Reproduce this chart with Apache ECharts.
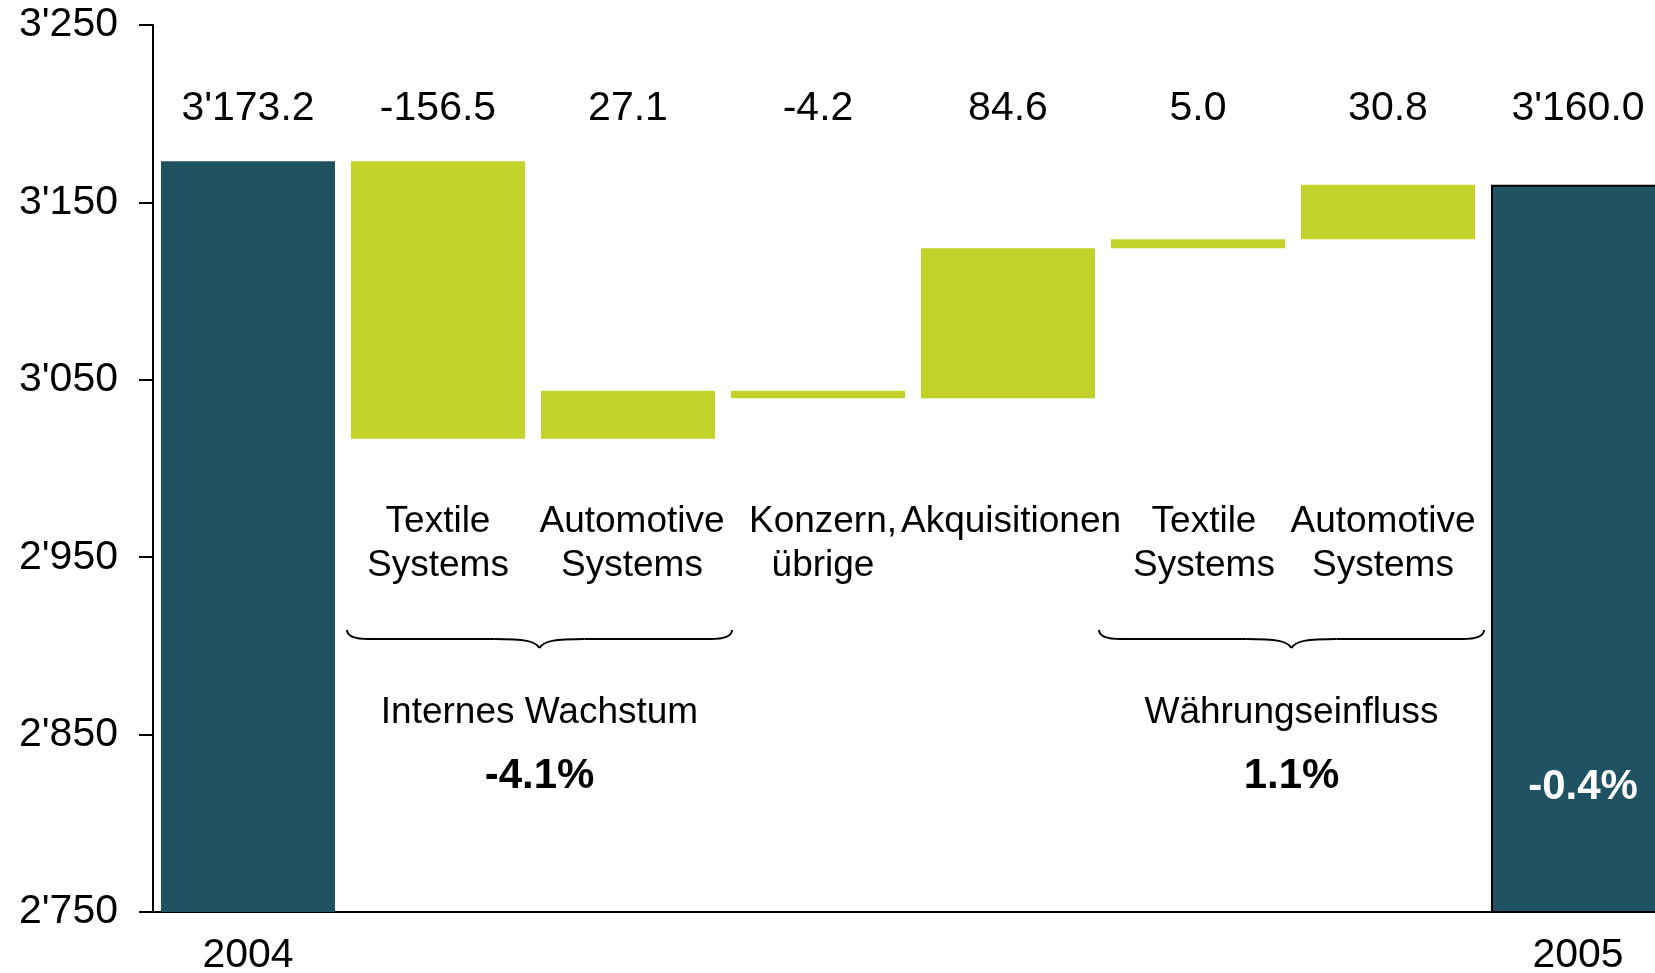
<!DOCTYPE html>
<html>
<head>
<meta charset="utf-8">
<script src="https://cdn.jsdelivr.net/npm/echarts@6/dist/echarts.min.js"></script>
<style>
  html, body { margin: 0; padding: 0; background: #fff; overflow: hidden; }
  /* the plot runs past the right edge of the window, as in the original */
  #chart { width: 1673px; height: 973px; }
</style>
</head>
<body>
<div id="chart"></div>
<script>
// data
const years = ['2004', '2005'];
const startValue = 3173.2;
const endValue = 3160.0;
const stepNames = ['Textile\nSystems', 'Automotive\nSystems', 'Konzern,\nübrige', 'Akquisitionen', 'Textile\nSystems', 'Automotive\nSystems'];
const stepDeltas = [-156.5, 27.1, -4.2, 84.6, 5.0, 30.8];
const groupNames = ['Internes Wachstum', 'Währungseinfluss'];
const groupChange = ['-4.1%', '1.1%'];
const totalChange = '-0.4%';
const yMin = 2750, yMax = 3250, yStep = 100;

const FONT = '"Liberation Sans", Arial, sans-serif';
const TEAL = '#1F5262';
const GREEN = '#C3D22B';

function fmt(v, d) {
  const s = Math.abs(v).toFixed(d);
  const parts = s.split('.');
  const ip = parts[0].replace(/\B(?=(\d{3})+(?!\d))/g, "'");
  return (v < 0 ? '-' : '') + ip + (parts[1] ? '.' + parts[1] : '');
}

const categories = [years[0]].concat(stepNames, [years[1]]);

// waterfall: invisible base + visible step
let level = startValue;
const baseData = ['-'];
const stepData = ['-'];
stepDeltas.forEach(d => {
  baseData.push(+(d < 0 ? level + d : level).toFixed(1));
  stepData.push(Math.abs(d));
  level += d;
});
baseData.push('-');
stepData.push('-');
const totalData = [startValue].concat(stepDeltas.map(() => '-'),
  [{ value: endValue, itemStyle: { borderColor: '#000', borderWidth: 2 } }]);
const valueLabels = [fmt(startValue, 1)].concat(stepDeltas.map(d => fmt(d, 1)), [fmt(endValue, 1)]);

const chart = echarts.init(document.getElementById('chart'));

chart.setOption({
  animation: false,
  grid: { left: 153, top: 25, right: 0, height: 887, outerBoundsMode: 'none' },
  xAxis: {
    type: 'category',
    data: categories,
    axisLine: { lineStyle: { color: '#000', width: 2 } },
    axisTick: { show: false },
    axisLabel: {
      interval: 0,
      margin: 23,
      color: '#000',
      fontSize: 41,
      fontFamily: FONT,
      formatter: (v, i) => (i === 0 || i === categories.length - 1) ? v : ''
    }
  },
  yAxis: {
    type: 'value',
    min: yMin,
    max: yMax,
    interval: yStep,
    axisLine: { show: true, lineStyle: { color: '#000', width: 2 } },
    axisTick: { show: true, length: 14, lineStyle: { color: '#000', width: 2 } },
    splitLine: { show: false },
    axisLabel: {
      margin: 35,
      padding: [3, 0, 0, 0],
      color: '#000',
      fontSize: 41,
      fontFamily: FONT,
      formatter: v => fmt(v, 0)
    }
  },
  series: [
    {
      name: 'base',
      type: 'bar',
      stack: 'wf',
      barWidth: 174,
      itemStyle: { color: 'rgba(0,0,0,0)' },
      silent: true,
      data: baseData
    },
    {
      name: 'step',
      type: 'bar',
      stack: 'wf',
      barWidth: 174,
      itemStyle: { color: GREEN },
      data: stepData
    },
    {
      name: 'total',
      type: 'bar',
      stack: 'wf',
      barWidth: 174,
      itemStyle: { color: TEAL },
      data: totalData
    }
  ]
});

// annotations placed on top
const xs = categories.map((_, i) => chart.convertToPixel({ xAxisIndex: 0 }, i));
const graphics = [];
const nameShift = [0, 4, 5, 3, 6, -5];

valueLabels.forEach((t, i) => {
  graphics.push({
    type: 'text', z: 100,
    style: { text: t, x: xs[i], y: 109, align: 'center', verticalAlign: 'middle', fontSize: 41, fontFamily: FONT, fill: '#000' }
  });
});

stepNames.forEach((t, i) => {
  graphics.push({
    type: 'text', z: 100,
    style: { text: t, x: xs[i + 1] + nameShift[i], y: 500, align: 'center', verticalAlign: 'top', lineHeight: 44, fontSize: 37, fontFamily: FONT, fill: '#000' }
  });
});

// curly brace made of curves and straight pieces
function brace(x0, x1) {
  const y0 = 630, y1 = 639, y2 = 648;
  const xm = (x0 + x1) / 2;
  const st = { stroke: '#000', lineWidth: 2, fill: 'none' };
  return [
    { type: 'bezierCurve', shape: { x1: x0, y1: y0, cpx1: x0, cpy1: y1, x2: x0 + 22, y2: y1 }, style: st },
    { type: 'line', shape: { x1: x0 + 22, y1: y1, x2: xm - 45, y2: y1 }, style: st },
    { type: 'bezierCurve', shape: { x1: xm - 45, y1: y1, cpx1: xm - 15, cpy1: y1, cpx2: xm - 4, cpy2: y1 + 2, x2: xm, y2: y2 }, style: st },
    { type: 'bezierCurve', shape: { x1: xm, y1: y2, cpx1: xm + 4, cpy1: y1 + 2, cpx2: xm + 15, cpy2: y1, x2: xm + 45, y2: y1 }, style: st },
    { type: 'line', shape: { x1: xm + 45, y1: y1, x2: x1 - 22, y2: y1 }, style: st },
    { type: 'bezierCurve', shape: { x1: x1 - 22, y1: y1, cpx1: x1, cpy1: y1, x2: x1, y2: y0 }, style: st }
  ];
}

const braceSpans = [[347, 732], [1099, 1484]];
braceSpans.forEach((s, k) => {
  const xm = (s[0] + s[1]) / 2;
  brace(s[0], s[1]).forEach(el => graphics.push(el));
  graphics.push({
    type: 'text', z: 100,
    style: { text: groupNames[k], x: xm, y: 713, align: 'center', verticalAlign: 'middle', fontSize: 37, fontFamily: FONT, fill: '#000' }
  });
  graphics.push({
    type: 'text', z: 100,
    style: { text: groupChange[k], x: xm, y: 776, align: 'center', verticalAlign: 'middle', fontSize: 42, fontWeight: 'bold', fontFamily: FONT, fill: '#000' }
  });
});

graphics.push({
  type: 'text', z: 100,
  style: { text: totalChange, x: xs[xs.length - 1] + 5, y: 787, align: 'center', verticalAlign: 'middle', fontSize: 42, fontWeight: 'bold', fontFamily: FONT, fill: '#fff' }
});

chart.setOption({ graphic: graphics });
</script>
</body>
</html>
